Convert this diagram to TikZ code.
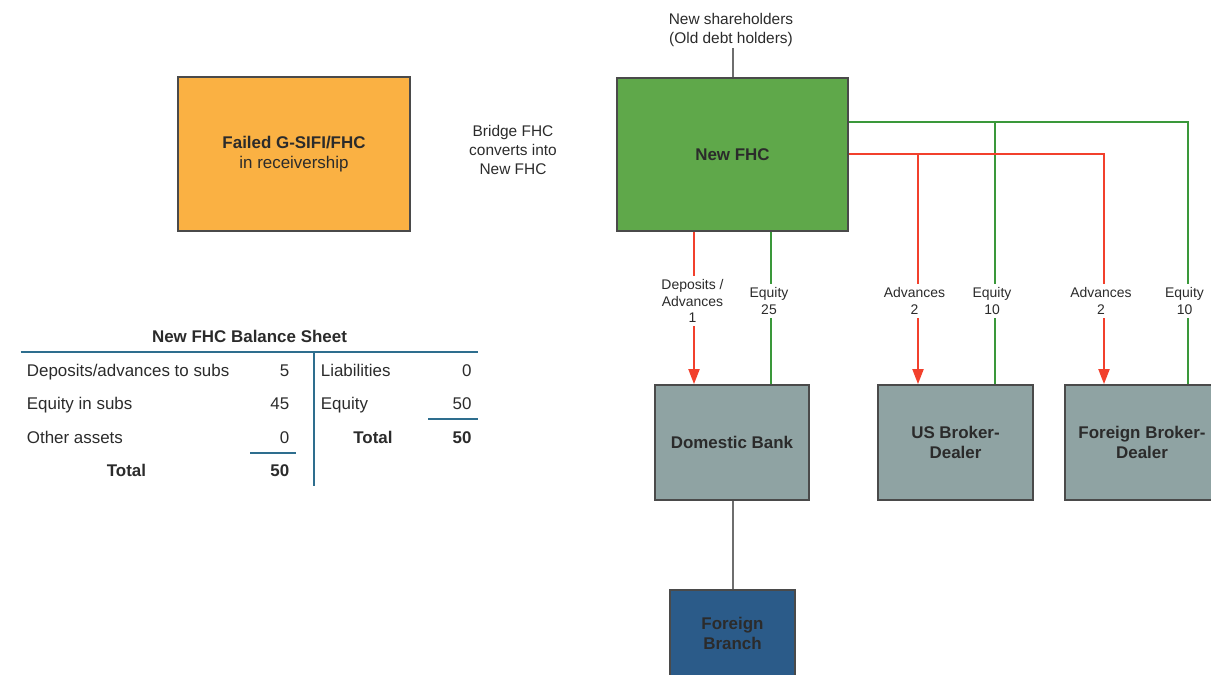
\documentclass[tikz,border=0pt]{standalone}
\usepackage{fontspec}
\setmainfont{Liberation Sans}
\usetikzlibrary{arrows.meta}
\definecolor{txt}{HTML}{2B2B2B}
\definecolor{boxline}{HTML}{4A4A4A}
\definecolor{forange}{HTML}{FAB143}
\definecolor{fgreen}{HTML}{5FA84A}
\definecolor{fgray}{HTML}{8FA3A3}
\definecolor{fblue}{HTML}{2B5B89}
\definecolor{lgreen}{HTML}{3A983A}
\definecolor{lred}{HTML}{F2402C}
\definecolor{bsline}{HTML}{2E6E8E}
\begin{document}
\begin{tikzpicture}[x=1bp,y=-1bp,
  box/.style={draw=boxline, line width=1.8bp, inner sep=0pt, align=center,
    font=\bfseries\fontsize{17}{20}\selectfont, text=txt},
  toplbl/.style={align=center, inner sep=1pt, text=txt, font=\fontsize{15.5}{19.5}\selectfont},
  lbl/.style={align=center, fill=white, inner sep=3pt, text=txt, font=\fontsize{14}{17}\selectfont},
  gline/.style={draw=lgreen, line width=2bp},
  rline/.style={draw=lred, line width=2bp, -{Triangle[width=11bp,length=15bp]}},
  kline/.style={draw=boxline!80, line width=2bp},
  bs/.style={text=txt, inner sep=0pt, font=\fontsize{17}{20}\selectfont},
  bsb/.style={bs, font=\bfseries\fontsize{17}{20}\selectfont},
  bsl/.style={draw=bsline, line width=2bp}
]
\useasboundingbox (0,0) rectangle (1211,675);
\clip (0,0) rectangle (1211,675);

% boxes
\node[box, fill=forange, minimum width=232bp, minimum height=154bp] (failed) at (294,154)
  {Failed G-SIFI/FHC\\{\mdseries in receivership}};
\node[box, fill=fgreen, minimum width=231bp, minimum height=153bp] (nfhc) at (732.5,154.5) {New FHC};
\node[box, fill=fgray, minimum width=154bp, minimum height=115bp] (dbank) at (732,442.5) {Domestic Bank};
\node[box, fill=fgray, minimum width=155bp, minimum height=115bp] (usbd) at (955.5,442.5) {US Broker-\\Dealer};
\node[box, fill=fgray, minimum width=154bp, minimum height=115bp] (fbd) at (1142,442.5) {Foreign Broker-\\Dealer};
\node[box, fill=fblue, minimum width=125bp, minimum height=86bp] (fbranch) at (732.5,633) {Foreign\\Branch};

% top texts
\node[toplbl] (sh) at (731,30) {New shareholders\\(Old debt holders)};
\node[toplbl] (bridge) at (513,150) {Bridge FHC\\converts into\\New FHC};

\draw[kline] (nfhc.north -| 733,0) -- (sh.south -| 733,0);
\draw[kline] (dbank.south -| 733,0) -- (fbranch.north -| 733,0);

% connectors from New FHC to the right
\coordinate (gsplit) at (995,122.5);
\coordinate (rsplit) at (918,154.5);
\draw[gline] (nfhc.east |- 0,122.5) -| (fbd.north -| 1188,0);
\draw[gline] (gsplit) -- (usbd.north -| gsplit);
\draw[rline] (nfhc.east |- 0,154.5) -| (fbd.north -| 1104,0);
\draw[rline] (rsplit) -- (usbd.north -| rsplit);

% connectors from New FHC down
\draw[rline] (nfhc.south -| 694,0) -- (dbank.north -| 694,0);
\draw[gline] (nfhc.south -| 771,0) -- (dbank.north -| 771,0);

% connector labels
\node[lbl] (l1) at (692.5,301) {Deposits /\\Advances\\1};
\node[lbl] (l2) at (769,301) {Equity\\25};
\node[lbl] (l3) at (914.5,301) {Advances\\2};
\node[lbl] (l4) at (992,301) {Equity\\10};
\node[lbl] (l5) at (1101,301) {Advances\\2};
\node[lbl] (l6) at (1184.5,301) {Equity\\10};

% balance sheet
\node[bsb, anchor=base] (bstitle) at (249.5,342) {New FHC Balance Sheet};
\draw[bsl] (20.5,352) -- (478,352);
\draw[bsl] (314,352) -- (314,486);
\draw[bsl] (250,453) -- (296,453);
\draw[bsl] (428,419) -- (478,419);

\node[bs, anchor=base west] (a1) at (26.7,376) {Deposits/advances to subs};
\node[bs, anchor=base west] (a2) at (26.7,409) {Equity in subs};
\node[bs, anchor=base west] (a3) at (26.7,443) {Other assets};
\node[bsb, anchor=base] (a4) at (126.5,476) {Total};
\node[bs, anchor=base east] (v1) at (289.5,376) {5};
\node[bs, anchor=base east] (v2) at (289.5,409) {45};
\node[bs, anchor=base east] (v3) at (289.5,443) {0};
\node[bsb, anchor=base east] (v4) at (289.5,476) {50};

\node[bs, anchor=base west] (b1) at (320.7,376) {Liabilities};
\node[bs, anchor=base west] (b2) at (320.7,409) {Equity};
\node[bsb, anchor=base] (b3) at (373,443) {Total};
\node[bs, anchor=base east] (w1) at (471.7,376) {0};
\node[bs, anchor=base east] (w2) at (471.7,409) {50};
\node[bsb, anchor=base east] (w3) at (471.7,443) {50};
\end{tikzpicture}
\end{document}
